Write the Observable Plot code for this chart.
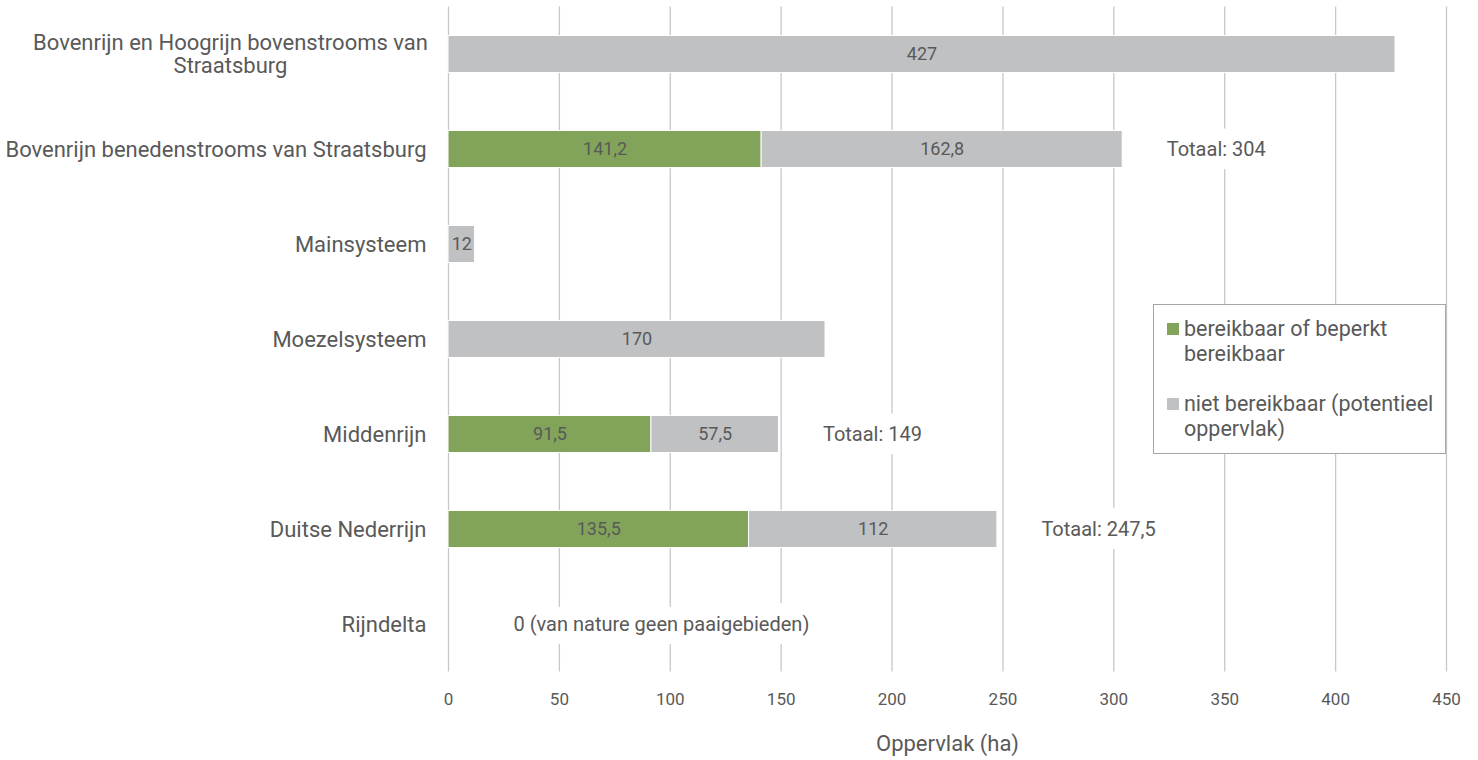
<!DOCTYPE html>
<html>
<head>
<meta charset="utf-8">
<script src="https://cdn.jsdelivr.net/npm/d3@7"></script>
<script src="https://cdn.jsdelivr.net/npm/@observablehq/plot@0.6"></script>
<style>
  html, body { margin: 0; padding: 0; background: #fff; overflow: hidden; }
  #wrap { position: relative; width: 1478px; height: 760px; font-family: Roboto, sans-serif; color: #595959; }
  #legend { position: absolute; left: 1153px; top: 304px; width: 291px; height: 148px; border: 1px solid #a6a6a6; background: #fff; box-sizing: content-box; }
  .item { position: absolute; left: 13px; font-size: 21.5px; line-height: 25px; }
  .sw { position: absolute; left: 0; top: 7px; width: 12px; height: 12px; }
  .lbl { margin-left: 17px; display: block; }
</style>
</head>
<body>
<div id="wrap"></div>
<script>
const categories = [
  "Bovenrijn en Hoogrijn bovenstrooms van Straatsburg",
  "Bovenrijn benedenstrooms van Straatsburg",
  "Mainsysteem",
  "Moezelsysteem",
  "Middenrijn",
  "Duitse Nederrijn",
  "Rijndelta"
];
const categoryLabels = [
  "Bovenrijn en Hoogrijn bovenstrooms van\nStraatsburg",
  "Bovenrijn benedenstrooms van Straatsburg",
  "Mainsysteem",
  "Moezelsysteem",
  "Middenrijn",
  "Duitse Nederrijn",
  "Rijndelta"
];
const seriesNames = ["bereikbaar of beperkt bereikbaar", "niet bereikbaar (potentieel oppervlak)"];
const reachable    = [0, 141.2, 0, 0, 91.5, 135.5, 0];
const notReachable = [427, 162.8, 12, 170, 57.5, 112, 0];
const totals       = [null, 304, null, null, 149, 247.5, null];
const notes        = [null, null, null, null, null, null, "0 (van nature geen paaigebieden)"];
const xTicks = [0, 50, 100, 150, 200, 250, 300, 350, 400, 450];
const colors = ["#82a45a", "#bfc1c3"];

const fmt = v => String(v).replace(".", ",");

const rows = [];
categories.forEach((c, i) => {
  rows.push({cat: c, type: seriesNames[0], value: reachable[i]});
  rows.push({cat: c, type: seriesNames[1], value: notReachable[i]});
});
const barRows = rows.filter(d => d.value > 0);
const totalRows = categories.map((c, i) => ({cat: c, total: totals[i]})).filter(d => d.total != null);
const noteRows = categories.map((c, i) => ({cat: c, note: notes[i]})).filter(d => d.note != null);
const labelOf = new Map(categories.map((c, i) => [c, categoryLabels[i]]));

const textColor = "#595959";

const chart = Plot.plot({
  width: 1478,
  height: 760,
  marginLeft: 448,
  marginRight: 32,
  marginTop: 6.5,
  marginBottom: 88.5,
  style: {fontFamily: "Roboto, sans-serif", color: textColor, background: "transparent"},
  x: {domain: [0, 450], ticks: xTicks},
  y: {domain: categories, paddingInner: 0.61, paddingOuter: 0.305, round: false},
  color: {domain: seriesNames, range: colors},
  marks: [
    Plot.gridX(xTicks, {stroke: "#c8c8cc", strokeOpacity: 1, strokeWidth: 1.3}),
    Plot.text(totalRows, {
      x: "total", y: "cat", text: d => "Totaal: " + fmt(d.total),
      textAnchor: "start", dx: 44, fontSize: 20, fill: textColor,
      stroke: "white", strokeWidth: 26, strokeLinejoin: "round"
    }),
    Plot.text(noteRows, {
      x: 0, y: "cat", text: "note",
      textAnchor: "start", dx: 65, fontSize: 20, fill: textColor,
      stroke: "white", strokeWidth: 26, strokeLinejoin: "round"
    }),
    Plot.barX(barRows, Plot.stackX({
      y: "cat", x: "value", fill: "type", order: seriesNames,
      stroke: "white", strokeWidth: 1
    })),
    Plot.text(barRows, Plot.stackX({
      y: "cat", x: "value", z: "type", order: seriesNames,
      text: d => fmt(d.value), fontSize: 18, fill: textColor
    })),
    Plot.axisX({ticks: xTicks, tickSize: 0, tickPadding: 20.5, fontSize: 17, label: null, fill: textColor}),
    Plot.axisY({
      tickSize: 0, tickPadding: 22, fontSize: 22, label: null, fill: textColor,
      tickFormat: d => d === categories[0] ? "" : labelOf.get(d)
    }),
    Plot.text([categories[0]], {
      y: d => d, frameAnchor: "left", dx: -218, text: d => labelOf.get(d),
      textAnchor: "middle", fontSize: 22, lineHeight: 1.05, fill: textColor
    }),
    Plot.text(["Oppervlak (ha)"], {
      frameAnchor: "bottom", dy: 78.5, text: d => d, fontSize: 22, fill: textColor
    })
  ]
});

const wrap = document.getElementById("wrap");
wrap.appendChild(chart);

const legend = document.createElement("div");
legend.id = "legend";
const tops = [11, 86];
seriesNames.forEach((name, i) => {
  const item = document.createElement("div");
  item.className = "item";
  item.style.top = tops[i] + "px";
  item.style.width = "278px";
  const sw = document.createElement("span");
  sw.className = "sw";
  sw.style.background = colors[i];
  const lbl = document.createElement("span");
  lbl.className = "lbl";
  lbl.textContent = name;
  item.appendChild(sw);
  item.appendChild(lbl);
  legend.appendChild(item);
});
wrap.appendChild(legend);
</script>
</body>
</html>
